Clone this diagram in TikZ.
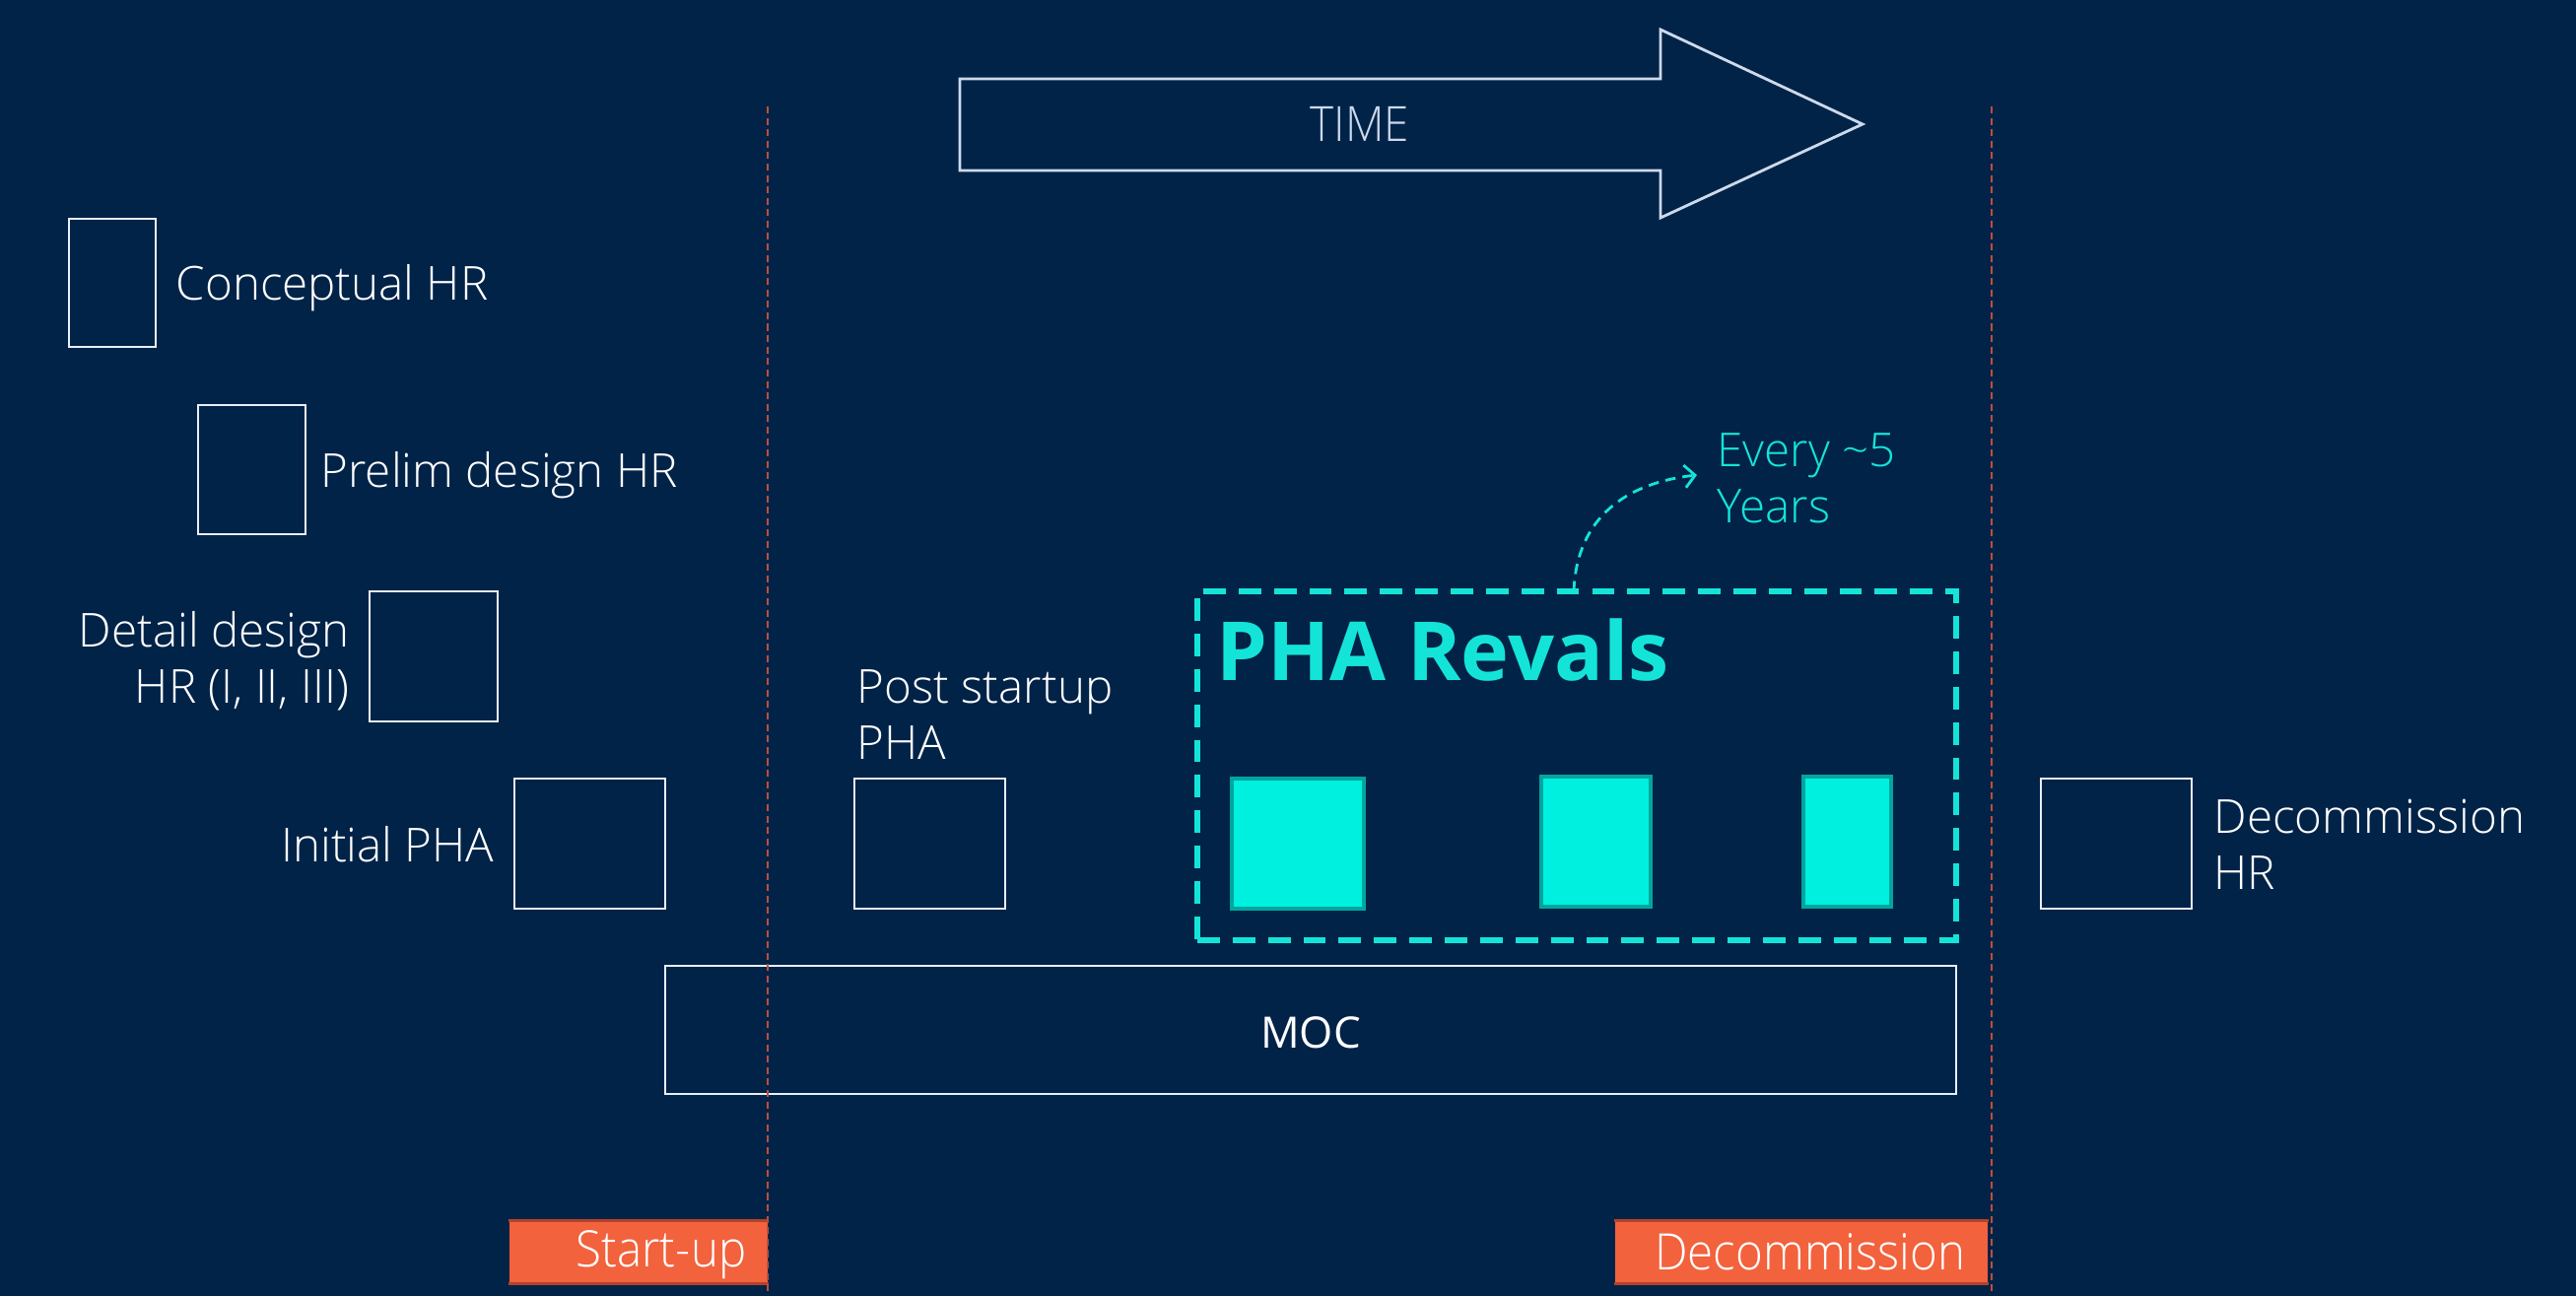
\documentclass[tikz,border=0pt]{standalone}
\usepackage{fontspec}
\setmainfont{Open Sans}
\newfontfamily\lightfont{Open Sans Light}
\newfontfamily\condfont{Open Sans Light}[FakeStretch=0.93]
\usetikzlibrary{arrows.meta,fit}
\definecolor{bgc}{RGB}{2,35,72}
\definecolor{linew}{RGB}{232,238,246}
\definecolor{arrowc}{RGB}{205,218,236}
\definecolor{cyanc}{RGB}{20,228,216}
\definecolor{cyanfill}{RGB}{0,240,224}
\definecolor{tealb}{RGB}{0,166,158}
\definecolor{orangec}{RGB}{242,98,61}
\definecolor{orangedk}{RGB}{180,66,42}
\definecolor{phase}{RGB}{190,78,58}
\tikzset{
  tbox/.style={draw=linew, line width=0.6pt, inner sep=0pt},
  cbox/.style={draw=tealb, fill=cyanfill, line width=1.4pt, inner sep=0pt},
  obox/.style={fill=orangec, draw=none, inner sep=0pt},
  lbl/.style={text=white, font=\lightfont\fontsize{13.5}{16.2}\selectfont, inner sep=0pt},
  olbl/.style={text=white, font=\condfont\fontsize{14.5}{17}\selectfont, inner sep=0pt},
  phaseline/.style={draw=phase, line width=0.45pt, dash pattern=on 2pt off 1.3pt},
}
\begin{document}
\begin{tikzpicture}[x=0.01cm,y=-0.01cm]
\fill[bgc] (0,0) rectangle (2614,1315);
\useasboundingbox (0,0) rectangle (2614,1315);

% phase lines
\coordinate (l1t) at (779,108);
\coordinate (l1b) at (779,1315);
\coordinate (l2t) at (2021,108);
\coordinate (l2b) at (2021,1315);

% time arrow
\draw[arrowc, line width=0.8pt, line join=miter] (974,80) -- (1685,80) -- (1685,30) -- (1890,126) -- (1685,221) -- (1685,173) -- (974,173) -- cycle;
\node[text=arrowc, font=\condfont\fontsize{14}{17}\selectfont, inner sep=0pt] (time) at (1380,126) {TIME};

% left staircase
\node[tbox, fit={(70,222) (158,352)}] (cb) {};
\node[lbl, anchor=west] (ct) at (178,292) {Conceptual HR};
\node[tbox, fit={(201,411) (310,542)}] (pb) {};
\node[lbl, anchor=west] (pt) at (325,482) {Prelim design HR};
\node[tbox, fit={(375,600) (505,732)}] (db) {};
\node[lbl, anchor=east, align=right] (dt) at (355,671) {Detail design\\HR (I, II, III)};
\node[tbox, fit={(522,790) (675,922)}] (ib) {};
\node[lbl, anchor=east] (it) at (502,857) {Initial PHA};

% post startup
\node[tbox, fit={(867,790) (1020,922)}] (psb) {};
\node[lbl, anchor=west, align=left] (pst) at (869,725) {Post startup\\PHA};

% decommission HR
\node[tbox, fit={(2071,790) (2224,922)}] (dcb) {};
\node[lbl, anchor=west, align=left] (dct) at (2246,857) {Decommission\\HR};

% MOC
\node[tbox, fit={(675,980) (1985,1110)}] (moc) {};
\node[text=white, font=\fontsize{12.5}{15}\selectfont, inner sep=0pt, yshift=-0.03cm] (moct) at (moc.center) {MOC};

% PHA revals
\node[draw=cyanc, line width=1.8pt, dash pattern=on 6.5pt off 3.7pt, inner sep=0pt, fit={(1215,600) (1985,954)}] (rev) {};
\node[text=cyanc, font=\bfseries\fontsize{23.5}{28}\selectfont, inner sep=0pt, anchor=west] (revt) at (1234,660) {PHA Revals};
\node[cbox, fit={(1250,790) (1384,922)}] (r1) {};
\node[cbox, fit={(1564,788) (1675,920)}] (r2) {};
\node[cbox, fit={(1830,788) (1919,920)}] (r3) {};

\node[text=cyanc, font=\lightfont\fontsize{13.5}{16.2}\selectfont, inner sep=0pt, anchor=west, align=left] (ev) at (1742,485) {Every \textasciitilde5\\Years};
\coordinate (evs) at (1597,600);
\coordinate (evtip) at (1722,482);
\draw[cyanc, line width=0.8pt, dash pattern=on 3pt off 2pt, -{Straight Barb[length=3pt,width=6.5pt]}] (evs) .. controls (1600,525) and (1650,490) .. (evtip);

% phase labels
\node[obox, fit={(517,1239) (779,1302)}] (su) {};
\draw[orangedk, line width=0.9pt] (su.north west) -- (su.north east);
\draw[orangedk, line width=0.9pt] (su.south west) -- (su.south east);
\node[olbl, anchor=east] (sut) at (758,1273) {Start-up};
\node[obox, fit={(1639,1239) (2017,1302)}] (dc) {};
\draw[orangedk, line width=0.9pt] (dc.north west) -- (dc.north east);
\draw[orangedk, line width=0.9pt] (dc.south west) -- (dc.south east);
\node[olbl, anchor=east] (dcl) at (1995,1270) {Decommission};

\draw[phaseline] (l1t) -- (l1b);
\draw[phaseline] (l2t) -- (l2b);
\end{tikzpicture}
\end{document}
